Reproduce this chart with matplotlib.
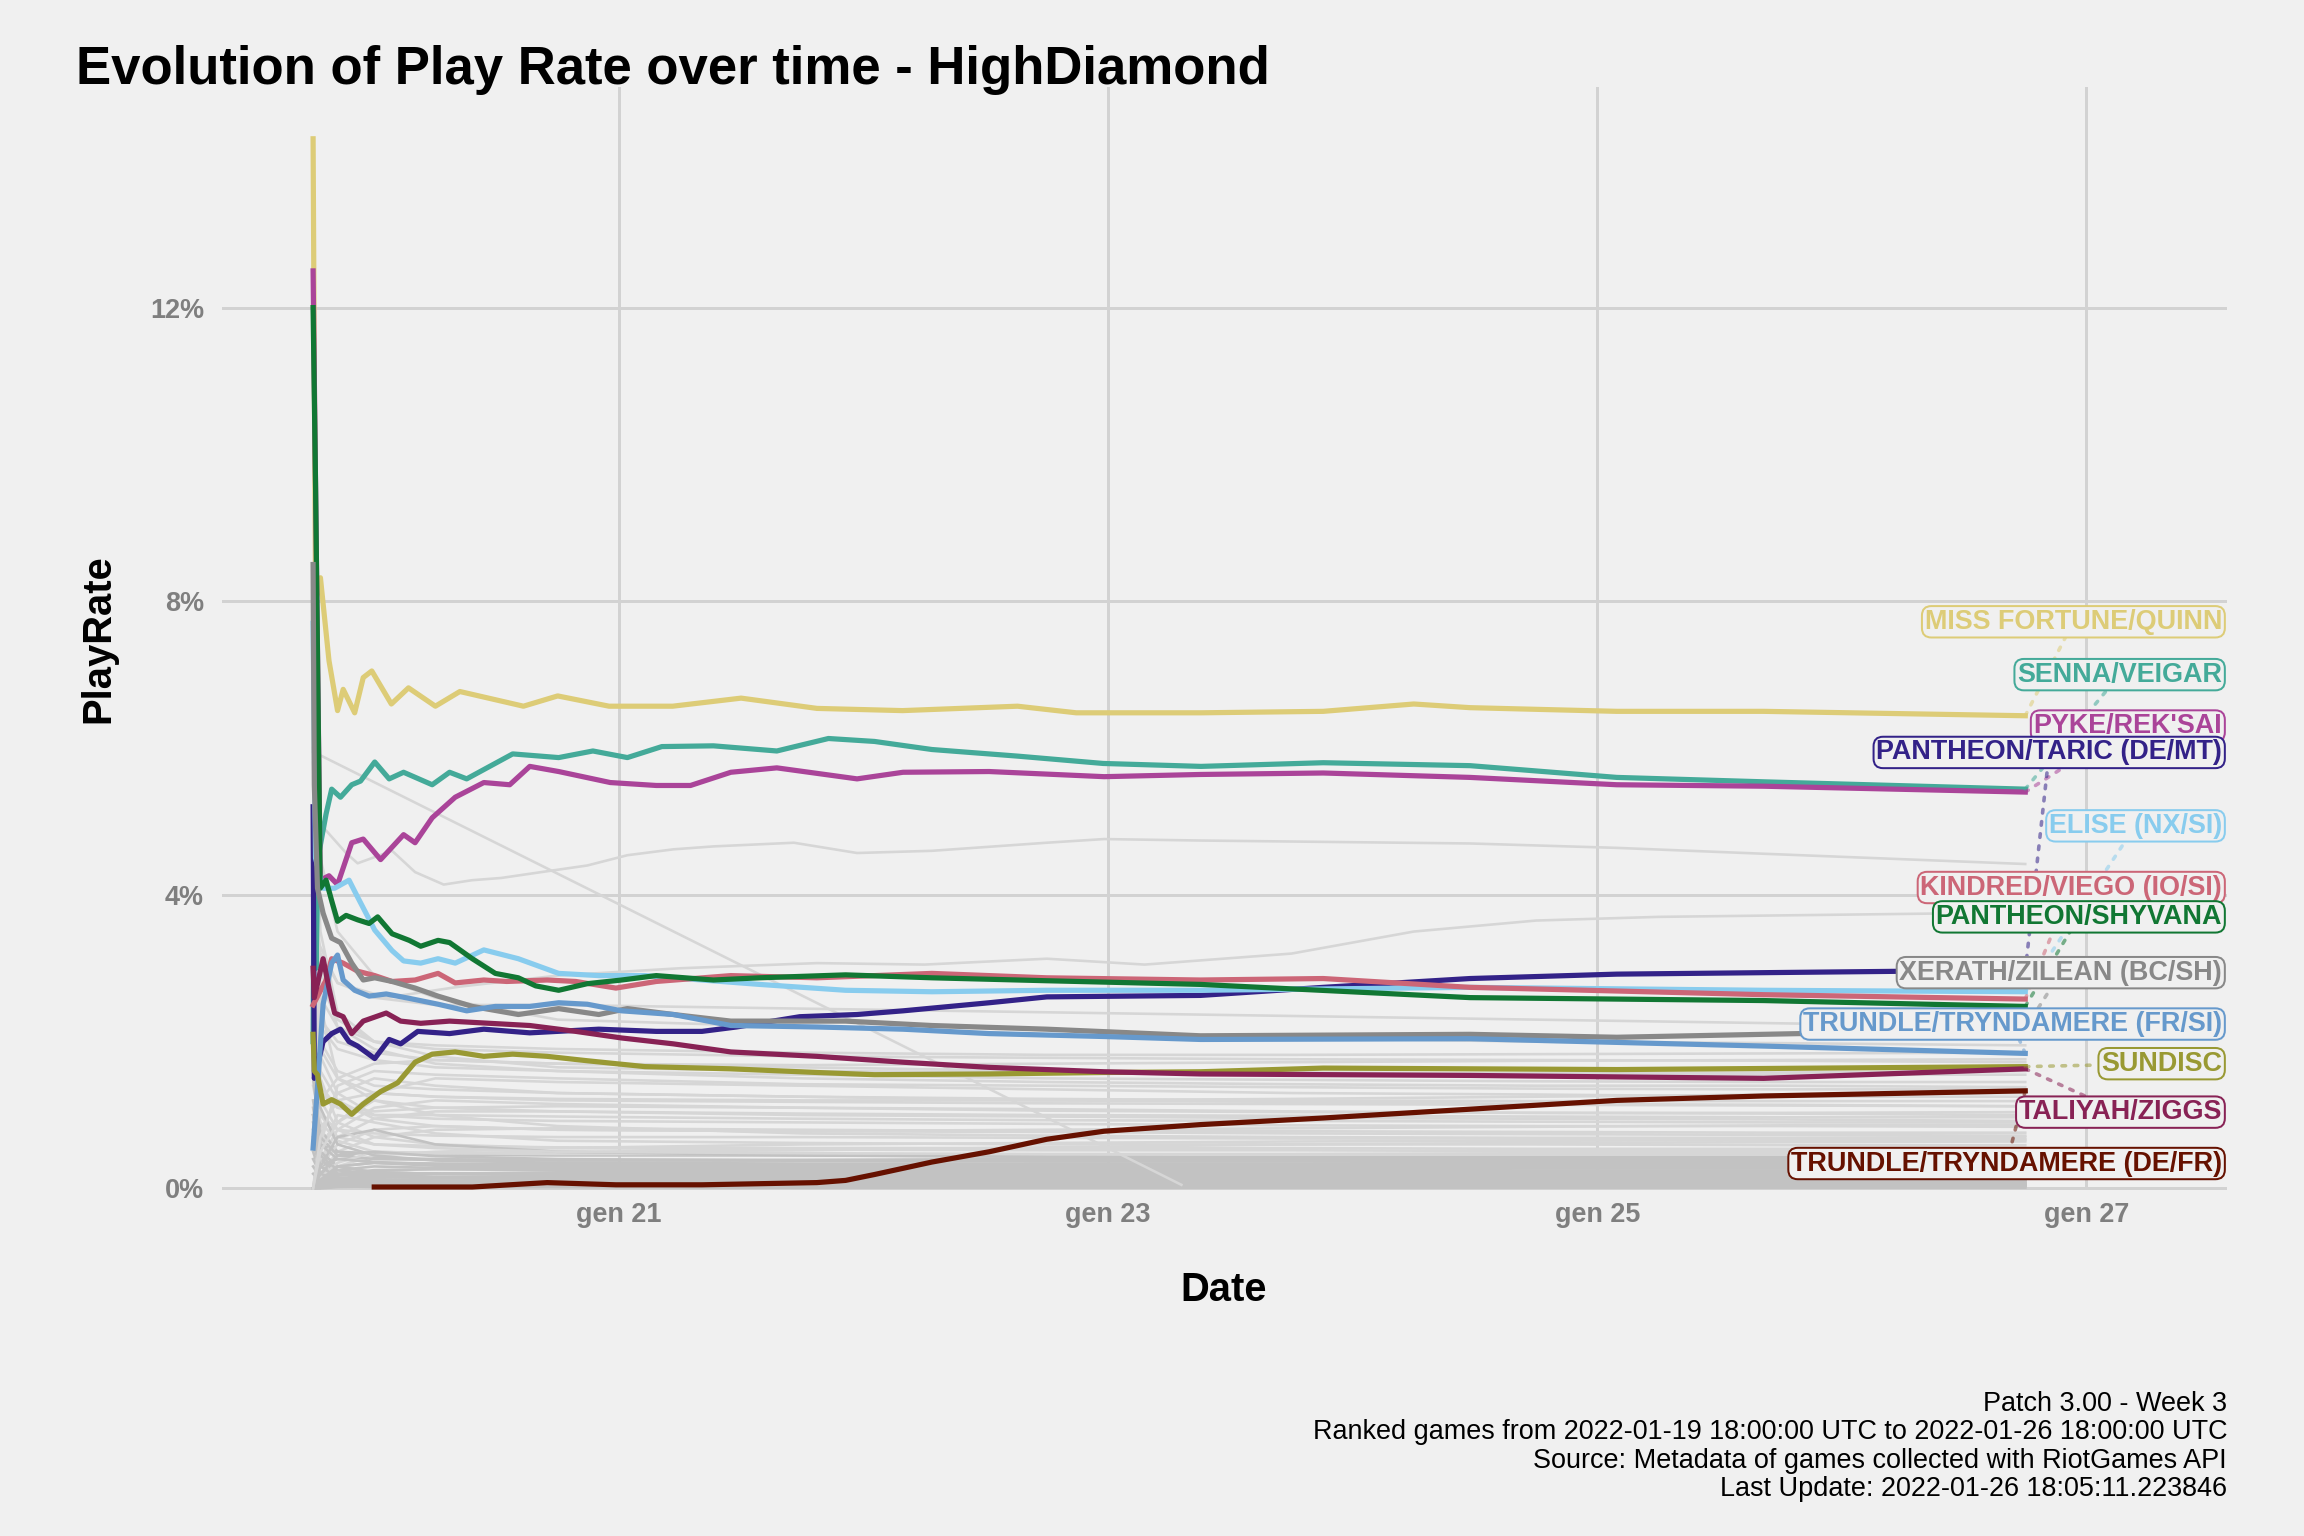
import numpy as np
import matplotlib
matplotlib.use('Agg')
import matplotlib.pyplot as plt

plt.rcParams['font.family'] = ['Liberation Sans', 'DejaVu Sans']

# ---------------------------------------------------------------- data
# time in days since 2022-01-19 18:00 UTC, play rate in %
mf_t = [0, 0.01, 0.03, 0.065, 0.1, 0.123, 0.17, 0.205, 0.24, 0.32, 0.39, 0.5, 0.6, 0.86, 1.0, 1.21, 1.47, 1.75, 2.06, 2.41, 2.88, 3.12, 3.63, 4.13, 4.5, 4.73, 5.33, 5.93, 7.0]
mf_v = [14.3, 8.0, 8.32, 7.19, 6.51, 6.8, 6.48, 6.96, 7.05, 6.6, 6.82, 6.57, 6.77, 6.57, 6.71, 6.57, 6.57, 6.68, 6.54, 6.51, 6.57, 6.48, 6.48, 6.5, 6.6, 6.55, 6.5, 6.5, 6.44]

senna_t = [0, 0.005, 0.012, 0.02, 0.053, 0.076, 0.112, 0.158, 0.194, 0.252, 0.311, 0.37, 0.487, 0.558, 0.628, 0.816, 1.004, 1.144, 1.285, 1.426, 1.637, 1.896, 2.107, 2.295, 2.53, 2.88, 3.23, 3.63, 4.13, 4.73, 5.33, 5.93, 7.0]
senna_v = [2.0, 5.0, 3.0, 4.5, 5.1, 5.44, 5.33, 5.5, 5.55, 5.81, 5.58, 5.67, 5.5, 5.67, 5.58, 5.92, 5.87, 5.96, 5.87, 6.02, 6.03, 5.96, 6.13, 6.09, 5.98, 5.89, 5.79, 5.75, 5.8, 5.76, 5.6, 5.54, 5.44]

pyke_t = [0, 0.01, 0.029, 0.065, 0.1, 0.158, 0.205, 0.276, 0.37, 0.417, 0.487, 0.581, 0.698, 0.804, 0.886, 1.004, 1.215, 1.403, 1.543, 1.708, 1.896, 2.224, 2.412, 2.764, 3.234, 3.628, 4.13, 4.73, 5.33, 5.93, 7.0]
pyke_v = [12.5, 9.6, 4.2, 4.26, 4.14, 4.71, 4.76, 4.48, 4.82, 4.71, 5.05, 5.33, 5.53, 5.5, 5.75, 5.68, 5.53, 5.49, 5.49, 5.67, 5.73, 5.58, 5.67, 5.68, 5.61, 5.64, 5.66, 5.6, 5.5, 5.48, 5.4]

taric_t = [0, 0.005, 0.041, 0.076, 0.112, 0.147, 0.182, 0.252, 0.311, 0.358, 0.428, 0.558, 0.698, 0.886, 1.168, 1.403, 1.59, 1.731, 1.99, 2.224, 2.412, 2.764, 3.0, 3.628, 4.13, 4.73, 5.33, 5.93, 6.53, 7.0]
taric_v = [5.2, 1.5, 2.0, 2.11, 2.17, 2.0, 1.94, 1.77, 2.03, 1.97, 2.14, 2.11, 2.17, 2.12, 2.17, 2.14, 2.14, 2.2, 2.34, 2.37, 2.42, 2.53, 2.61, 2.63, 2.74, 2.86, 2.92, 2.94, 2.96, 2.96]

elise_t = [0, 0.01, 0.041, 0.088, 0.147, 0.182, 0.252, 0.323, 0.37, 0.44, 0.511, 0.581, 0.698, 0.839, 1.004, 1.168, 1.356, 1.59, 1.825, 2.177, 2.53, 2.999, 3.628, 4.73, 5.93, 7.0]
elise_v = [7.7, 4.5, 4.09, 4.09, 4.2, 3.97, 3.52, 3.24, 3.1, 3.07, 3.13, 3.07, 3.25, 3.13, 2.93, 2.9, 2.9, 2.84, 2.78, 2.7, 2.68, 2.7, 2.7, 2.74, 2.7, 2.68]

kindred_t = [0, 0.053, 0.076, 0.123, 0.182, 0.252, 0.323, 0.417, 0.511, 0.581, 0.698, 0.792, 0.957, 1.074, 1.238, 1.403, 1.708, 2.06, 2.53, 2.999, 3.628, 4.13, 4.73, 5.93, 7.0]
kindred_v = [2.5, 2.84, 3.13, 3.07, 2.96, 2.9, 2.82, 2.84, 2.93, 2.8, 2.84, 2.82, 2.84, 2.82, 2.73, 2.82, 2.9, 2.87, 2.93, 2.87, 2.84, 2.86, 2.74, 2.64, 2.58]

shyv_t = [0, 0.01, 0.029, 0.053, 0.076, 0.1, 0.135, 0.182, 0.229, 0.264, 0.323, 0.393, 0.44, 0.511, 0.558, 0.651, 0.745, 0.839, 0.91, 1.004, 1.121, 1.262, 1.403, 1.637, 1.825, 2.177, 2.53, 2.999, 3.628, 4.73, 5.93, 7.0]
shyv_v = [12.0, 9.6, 4.09, 4.2, 3.92, 3.64, 3.72, 3.66, 3.61, 3.7, 3.47, 3.38, 3.3, 3.38, 3.35, 3.13, 2.93, 2.87, 2.76, 2.7, 2.79, 2.84, 2.9, 2.84, 2.87, 2.91, 2.87, 2.83, 2.78, 2.6, 2.56, 2.48]

xerath_t = [0, 0.005, 0.018, 0.041, 0.076, 0.112, 0.158, 0.205, 0.252, 0.323, 0.417, 0.511, 0.651, 0.839, 1.004, 1.168, 1.285, 1.473, 1.708, 1.942, 2.177, 2.53, 2.999, 3.628, 4.73, 5.33, 5.93, 6.53, 7.0]
xerath_v = [8.5, 5.5, 4.09, 3.75, 3.41, 3.35, 3.07, 2.84, 2.87, 2.82, 2.73, 2.62, 2.48, 2.37, 2.45, 2.37, 2.45, 2.37, 2.28, 2.28, 2.28, 2.22, 2.17, 2.08, 2.1, 2.06, 2.1, 2.14, 2.18]

trfr_t = [0, 0.018, 0.041, 0.076, 0.1, 0.123, 0.17, 0.229, 0.299, 0.393, 0.511, 0.628, 0.745, 0.886, 1.004, 1.121, 1.262, 1.473, 1.708, 2.06, 2.412, 2.764, 3.234, 3.628, 4.73, 5.93, 7.0]
trfr_v = [0.55, 1.38, 2.51, 3.07, 3.18, 2.84, 2.7, 2.62, 2.65, 2.59, 2.51, 2.42, 2.48, 2.48, 2.53, 2.51, 2.42, 2.37, 2.22, 2.2, 2.17, 2.11, 2.07, 2.03, 2.04, 1.94, 1.84]

sun_t = [0, 0.005, 0.018, 0.041, 0.076, 0.112, 0.158, 0.205, 0.276, 0.346, 0.417, 0.487, 0.581, 0.698, 0.816, 0.957, 1.121, 1.356, 1.708, 2.06, 2.295, 2.764, 3.234, 3.628, 4.13, 5.33, 7.0]
sun_v = [2.1, 1.6, 1.55, 1.15, 1.21, 1.15, 1.01, 1.15, 1.32, 1.44, 1.72, 1.83, 1.86, 1.8, 1.83, 1.8, 1.74, 1.66, 1.63, 1.58, 1.55, 1.56, 1.58, 1.59, 1.64, 1.62, 1.66]

tali_t = [0, 0.005, 0.018, 0.041, 0.065, 0.088, 0.123, 0.158, 0.205, 0.299, 0.358, 0.44, 0.558, 0.722, 0.886, 1.074, 1.262, 1.473, 1.708, 2.06, 2.412, 2.764, 3.234, 3.628, 4.73, 5.93, 7.0]
tali_v = [3.0, 2.6, 2.79, 3.13, 2.73, 2.39, 2.34, 2.11, 2.28, 2.39, 2.28, 2.25, 2.28, 2.25, 2.22, 2.14, 2.05, 1.97, 1.86, 1.8, 1.72, 1.65, 1.59, 1.56, 1.54, 1.5, 1.63]

trde_t = [0.25, 0.651, 0.957, 1.238, 1.59, 2.06, 2.177, 2.295, 2.53, 2.764, 2.999, 3.234, 3.628, 4.13, 4.73, 5.33, 5.93, 7.0]
trde_v = [0.02, 0.02, 0.08, 0.05, 0.05, 0.08, 0.11, 0.19, 0.36, 0.5, 0.67, 0.78, 0.87, 0.96, 1.08, 1.2, 1.26, 1.33]

labels = ['MISS FORTUNE/QUINN', 'SENNA/VEIGAR', "PYKE/REK'SAI", 'PANTHEON/TARIC (DE/MT)',
          'ELISE (NX/SI)', 'KINDRED/VIEGO (IO/SI)', 'PANTHEON/SHYVANA', 'XERATH/ZILEAN (BC/SH)',
          'TRUNDLE/TRYNDAMERE (FR/SI)', 'SUNDISC', 'TALIYAH/ZIGGS', 'TRUNDLE/TRYNDAMERE (DE/FR)']
series_t = [mf_t, senna_t, pyke_t, taric_t, elise_t, kindred_t, shyv_t, xerath_t, trfr_t, sun_t, tali_t, trde_t]
series_v = [mf_v, senna_v, pyke_v, taric_v, elise_v, kindred_v, shyv_v, xerath_v, trfr_v, sun_v, tali_v, trde_v]
colors = ['#DDCC77', '#44AA99', '#AA4499', '#332288', '#88CCEE', '#CC6677',
          '#117733', '#888888', '#6699CC', '#999933', '#882255', '#661100']
label_y = [7.72, 7.0, 6.3, 5.94, 4.94, 4.1, 3.7, 2.94, 2.24, 1.7, 1.04, 0.34]

# other champions (grey background)
g_special_t = [0, 0.02, 0.135, 0.182, 0.323, 0.417, 0.534, 0.651, 0.769, 0.933, 1.121, 1.285, 1.473, 1.637, 1.966, 2.224, 2.53, 2.999, 3.234, 3.628, 4.73, 5.33, 5.93, 7.0]
g_special_v = [6.0, 5.0, 4.57, 4.43, 4.6, 4.31, 4.14, 4.2, 4.23, 4.31, 4.4, 4.54, 4.62, 4.66, 4.71, 4.57, 4.6, 4.71, 4.76, 4.74, 4.7, 4.64, 4.56, 4.42]
g_diag_t = [0, 3.55]
g_diag_v = [5.95, 0.05]
g_rise_t = [0, 0.1, 0.3, 0.6, 1.0, 1.5, 2.06, 2.5, 3.0, 3.4, 4.0, 4.5, 5.0, 5.5, 6.0, 7.0]
g_rise_v = [3.5, 2.8, 2.6, 2.75, 2.9, 3.0, 3.07, 3.05, 3.13, 3.05, 3.2, 3.5, 3.65, 3.7, 3.72, 3.76]

grey_t = [0, 0.03, 0.1, 0.25, 0.5, 1.0, 2.0, 3.0, 4.0, 5.0, 6.0, 7.0]
grey_v = [
    [4.0, 3.2, 2.8, 2.6, 2.5, 2.5, 2.45, 2.4, 2.35, 2.3, 2.25, 2.2],
    [6.5, 4.5, 3.5, 2.9, 2.6, 2.3, 2.2, 2.1, 2.05, 2.0, 1.98, 1.95],
    [3.5, 2.6, 2.2, 2.0, 1.9, 1.85, 1.8, 1.78, 1.76, 1.75, 1.74, 1.72],
    [2.0, 1.2, 1.5, 1.7, 1.75, 1.7, 1.65, 1.6, 1.58, 1.56, 1.55, 1.55],
    [5.0, 3.0, 2.2, 1.9, 1.7, 1.6, 1.5, 1.45, 1.42, 1.4, 1.4, 1.38],
    [1.0, 0.6, 0.9, 1.3, 1.5, 1.45, 1.4, 1.35, 1.3, 1.28, 1.25, 1.25],
    [3.0, 2.0, 1.6, 1.4, 1.35, 1.3, 1.25, 1.2, 1.18, 1.15, 1.14, 1.12],
    [0.0, 0.4, 0.8, 1.1, 1.2, 1.15, 1.1, 1.08, 1.05, 1.03, 1.02, 1.0],
    [4.5, 2.5, 1.5, 1.2, 1.1, 1.05, 1.0, 0.98, 0.96, 0.95, 0.94, 0.92],
    [2.5, 1.8, 1.3, 1.0, 0.95, 0.92, 0.9, 0.88, 0.86, 0.85, 0.85, 0.84],
    [0.0, 0.2, 0.5, 0.7, 0.8, 0.82, 0.8, 0.78, 0.78, 0.77, 0.76, 0.76],
    [1.5, 1.0, 0.8, 0.75, 0.72, 0.7, 0.7, 0.69, 0.68, 0.68, 0.67, 0.67],
    [0.0, 0.5, 1.0, 0.9, 0.75, 0.65, 0.62, 0.6, 0.6, 0.6, 0.59, 0.59],
    [3.0, 1.5, 0.9, 0.7, 0.6, 0.55, 0.53, 0.52, 0.52, 0.51, 0.51, 0.5],
    [1.0, 0.6, 0.5, 0.48, 0.46, 0.45, 0.45, 0.44, 0.44, 0.43, 0.43, 0.43],
    [0.0, 0.3, 0.4, 0.42, 0.4, 0.38, 0.38, 0.37, 0.37, 0.36, 0.36, 0.36],
    [2.0, 0.8, 0.5, 0.35, 0.32, 0.3, 0.3, 0.3, 0.3, 0.3, 0.3, 0.3],
    [0.0, 0.1, 0.2, 0.25, 0.26, 0.25, 0.25, 0.25, 0.25, 0.24, 0.24, 0.24],
    [1.0, 0.4, 0.25, 0.2, 0.2, 0.2, 0.19, 0.19, 0.19, 0.19, 0.18, 0.18],
    [0.0, 0.1, 0.15, 0.15, 0.15, 0.14, 0.14, 0.14, 0.13, 0.13, 0.13, 0.13],
    [0.5, 0.2, 0.1, 0.1, 0.1, 0.1, 0.09, 0.09, 0.09, 0.09, 0.09, 0.09],
    [0.0, 0.05, 0.05, 0.06, 0.06, 0.06, 0.06, 0.06, 0.06, 0.06, 0.06, 0.06],
    [3.8, 2.2, 1.9, 1.75, 1.65, 1.6, 1.55, 1.5, 1.48, 1.46, 1.45, 1.45],
    [0.0, 0.8, 1.2, 1.3, 1.25, 1.2, 1.18, 1.16, 1.15, 1.14, 1.13, 1.12],
    [2.2, 1.4, 1.1, 1.0, 1.0, 0.98, 0.95, 0.93, 0.92, 0.91, 0.9, 0.9],
    [0.0, 0.3, 0.6, 0.8, 0.85, 0.8, 0.78, 0.77, 0.75, 0.74, 0.73, 0.72],
    [1.8, 1.0, 0.7, 0.6, 0.58, 0.56, 0.55, 0.55, 0.55, 0.54, 0.54, 0.54],
    [0.0, 0.2, 0.3, 0.35, 0.34, 0.33, 0.33, 0.33, 0.32, 0.32, 0.32, 0.32],
    [1.2, 0.5, 0.3, 0.22, 0.2, 0.21, 0.21, 0.21, 0.21, 0.21, 0.21, 0.21],
    [0.0, 0.0, 0.02, 0.03, 0.04, 0.04, 0.04, 0.04, 0.04, 0.04, 0.04, 0.04],
    [2.8, 1.9, 1.5, 1.3, 1.25, 1.22, 1.2, 1.2, 1.22, 1.25, 1.28, 1.3],
    [0.0, 0.6, 1.4, 1.6, 1.55, 1.5, 1.42, 1.4, 1.38, 1.36, 1.35, 1.35],
    [3.2, 2.3, 2.0, 1.85, 1.75, 1.7, 1.68, 1.7, 1.72, 1.74, 1.75, 1.76],
    [1.4, 0.9, 0.65, 0.5, 0.48, 0.5, 0.52, 0.56, 0.6, 0.62, 0.63, 0.64],
    [0.0, 0.1, 0.3, 0.45, 0.5, 0.55, 0.6, 0.62, 0.64, 0.65, 0.66, 0.66],
    [0.8, 0.4, 0.2, 0.12, 0.1, 0.11, 0.12, 0.12, 0.12, 0.12, 0.12, 0.12],
    [2.6, 1.6, 1.2, 0.95, 0.85, 0.8, 0.78, 0.8, 0.82, 0.84, 0.86, 0.87],
    [0.0, 0.4, 0.7, 0.95, 1.05, 1.05, 1.02, 1.0, 0.99, 0.98, 0.97, 0.97],
    [5.8, 3.5, 2.4, 2.0, 1.8, 1.65, 1.6, 1.58, 1.57, 1.57, 1.58, 1.6],
    [0.3, 0.15, 0.08, 0.05, 0.04, 0.03, 0.03, 0.03, 0.03, 0.02, 0.02, 0.02],
    [0.0, 0.05, 0.1, 0.12, 0.11, 0.1, 0.1, 0.1, 0.1, 0.1, 0.1, 0.1],
    [0.6, 0.3, 0.2, 0.17, 0.16, 0.16, 0.16, 0.16, 0.16, 0.16, 0.16, 0.16],
    [0.0, 0.1, 0.25, 0.3, 0.28, 0.27, 0.27, 0.27, 0.27, 0.27, 0.27, 0.27],
    [1.5, 0.7, 0.45, 0.4, 0.39, 0.39, 0.39, 0.4, 0.4, 0.4, 0.4, 0.4],
    [0.0, 0.02, 0.05, 0.07, 0.08, 0.08, 0.08, 0.08, 0.08, 0.07, 0.07, 0.07],
    [0.9, 0.5, 0.3, 0.22, 0.2, 0.18, 0.17, 0.17, 0.17, 0.17, 0.17, 0.17],
    [0.0, 0.15, 0.35, 0.5, 0.48, 0.47, 0.47, 0.46, 0.46, 0.46, 0.46, 0.46],
    [2.4, 1.1, 0.6, 0.45, 0.38, 0.35, 0.34, 0.34, 0.34, 0.34, 0.34, 0.34],
    [0.0, 0.03, 0.1, 0.15, 0.2, 0.22, 0.22, 0.22, 0.22, 0.22, 0.22, 0.22],
    [0.4, 0.2, 0.12, 0.08, 0.06, 0.05, 0.05, 0.05, 0.05, 0.05, 0.05, 0.05],
    [0.0, 0.01, 0.03, 0.02, 0.02, 0.02, 0.01, 0.01, 0.01, 0.01, 0.01, 0.01],
    [0.2, 0.1, 0.06, 0.03, 0.03, 0.03, 0.03, 0.03, 0.03, 0.03, 0.03, 0.03],
    [0.0, 0.04, 0.08, 0.09, 0.07, 0.06, 0.05, 0.05, 0.05, 0.05, 0.05, 0.05],
    [0.7, 0.3, 0.15, 0.1, 0.08, 0.07, 0.07, 0.07, 0.07, 0.07, 0.07, 0.07],
    [0.0, 0.06, 0.12, 0.16, 0.14, 0.12, 0.11, 0.11, 0.11, 0.11, 0.11, 0.11],
    [1.1, 0.45, 0.25, 0.18, 0.15, 0.14, 0.14, 0.14, 0.14, 0.15, 0.15, 0.15],
    [0.0, 0.08, 0.18, 0.22, 0.2, 0.19, 0.19, 0.19, 0.2, 0.2, 0.2, 0.2],
    [0.0, 0.12, 0.3, 0.35, 0.31, 0.29, 0.28, 0.28, 0.28, 0.29, 0.29, 0.29],
    [1.6, 0.6, 0.4, 0.36, 0.33, 0.32, 0.32, 0.33, 0.33, 0.33, 0.34, 0.34],
    [0.0, 0.2, 0.45, 0.5, 0.44, 0.4, 0.38, 0.38, 0.38, 0.38, 0.38, 0.38],
    [0.0, 0.3, 0.7, 0.8, 0.6, 0.5, 0.45, 0.43, 0.42, 0.42, 0.41, 0.41],
    [2.2, 1.2, 0.8, 0.6, 0.55, 0.5, 0.48, 0.47, 0.47, 0.48, 0.48, 0.48],
    [0.0, 0.5, 0.9, 1.2, 1.0, 0.85, 0.75, 0.72, 0.7, 0.69, 0.69, 0.7],
    [2.0, 1.3, 1.1, 1.05, 1.1, 1.12, 1.1, 1.06, 1.04, 1.03, 1.03, 1.04],
    [0.0, 0.7, 1.3, 1.5, 1.4, 1.3, 1.25, 1.22, 1.2, 1.19, 1.19, 1.19],
    [4.2, 2.8, 2.3, 2.0, 1.95, 1.9, 1.85, 1.82, 1.82, 1.83, 1.84, 1.85],
]

tick_days = ['2022-01-21', '2022-01-23', '2022-01-25', '2022-01-27']
tick_labels = ['gen 21', 'gen 23', 'gen 25', 'gen 27']
y_ticks = [0, 4, 8, 12]

title = 'Evolution of Play Rate over time - HighDiamond'
caption = ('Patch 3.00 - Week 3\n'
           'Ranked games from 2022-01-19 18:00:00 UTC to 2022-01-26 18:00:00 UTC\n'
           'Source: Metadata of games collected with RiotGames API\n'
           'Last Update: 2022-01-26 18:05:11.223846')

# ---------------------------------------------------------------- plot
BG = '#F0F0F0'
start = np.datetime64('2022-01-19T18:00:00')


def to_date(t):
    return start + (np.asarray(t, dtype=float) * 86400).astype('timedelta64[s]')


fig = plt.figure(figsize=(16, 16 / 1.5), dpi=144)
fig.patch.set_facecolor(BG)
ax = fig.add_axes([0.0964, 0.2253, 0.8703, 0.7178])
ax.set_facecolor(BG)

# background champions: light grey, the tiny ones a bit darker
for g in grey_v:
    col = '#C2C2C2' if g[-1] < 0.45 else '#D6D6D6'
    ax.plot(to_date(grey_t), g, color=col, lw=1.3, zorder=2)
for t, v in [(g_special_t, g_special_v), (g_diag_t, g_diag_v), (g_rise_t, g_rise_v)]:
    ax.plot(to_date(t), v, color='#D6D6D6', lw=1.3, zorder=2)

for t, v, c in zip(series_t, series_v, colors):
    ax.plot(to_date(t), v, color=c, lw=2.6, zorder=4, solid_joinstyle='round')

ax.set_xlim(to_date(-0.372), to_date(7.826))
ax.set_ylim(-0.02, 15.0)

ax.set_xticks(np.array(tick_days, dtype='datetime64[s]'), tick_labels)
ax.set_yticks(y_ticks, [f'{y}%' for y in y_ticks])
ax.tick_params(length=0, labelsize=13.5, labelcolor='#7F7F7F')
ax.tick_params(axis='y', pad=9)
ax.tick_params(axis='x', pad=6)
for lbl in ax.get_xticklabels() + ax.get_yticklabels():
    lbl.set_fontweight('bold')
ax.grid(color='#D2D2D2', lw=1.5)
ax.set_axisbelow(True)
for s in ax.spines.values():
    s.set_visible(False)

# labels with repel-like connectors
texts = []
for lab, ly, c in zip(labels, label_y, colors):
    tx = ax.text(to_date(7.805), ly, lab, ha='right', va='center', fontsize=13.5,
                 fontweight='bold', color=c, zorder=6,
                 bbox=dict(boxstyle='round,pad=0.1,rounding_size=0.35', fc=BG, ec=c, lw=1.0))
    texts.append(tx)

fig.canvas.draw()
renderer = fig.canvas.get_renderer()
inv = ax.transData.inverted()
for tx, t, v, c in zip(texts, series_t, series_v, colors):
    bb = tx.get_bbox_patch().get_window_extent(renderer)
    cx, cy = (bb.x0 + bb.x1) / 2, (bb.y0 + bb.y1) / 2
    px, py = ax.transData.transform((matplotlib.dates.date2num(to_date(t[-1])), v[-1]))
    dx, dy = px - cx, py - cy
    hw, hh = bb.width / 2, bb.height / 2
    s = min(hw / abs(dx) if dx else np.inf, hh / abs(dy) if dy else np.inf)
    if s >= 1:
        continue
    ex, ey = cx + s * dx, cy + s * dy
    (x0, y0), (x1, y1) = inv.transform([(px, py), (ex, ey)])
    ax.plot([x0, x1], [y0, y1], color=c, alpha=0.55, lw=1.8, ls=(0, (1.0, 2.4)),
            dash_capstyle='round', zorder=5)

fig.text(0.033, 0.9455, title, fontsize=26.4, fontweight='bold', ha='left', va='baseline')
fig.text(0.0425, 0.584, 'PlayRate', rotation=90, fontsize=20, fontweight='bold',
         ha='center', va='center')
fig.text(0.531, 0.160, 'Date', fontsize=20, fontweight='bold', ha='center', va='center')
fig.text(0.9666, 0.022, caption, fontsize=13.5, ha='right', va='bottom',
         multialignment='right', linespacing=1.12)

fig.savefig('out.png', dpi=144, facecolor=BG)
